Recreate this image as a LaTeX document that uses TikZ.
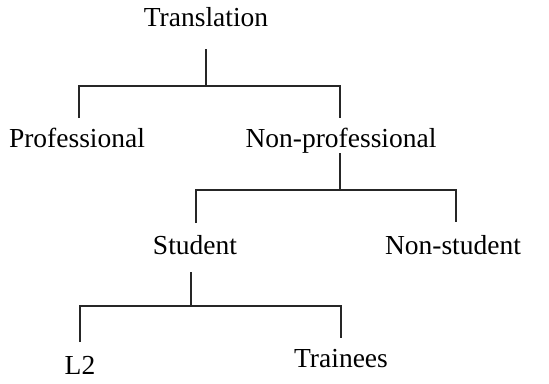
\documentclass[tikz,border=0pt]{standalone}
\usepackage{fontspec}
\setmainfont{Liberation Serif}
\usepackage{tikz}

\tikzset{
  lbl/.style={anchor=base, inner sep=0pt, font=\fontsize{27.5}{32}\selectfont},
  branch/.style={line width=1.3pt, black!85}
}

\begin{document}
\begin{tikzpicture}[x=1pt,y=-1pt]
    \useasboundingbox (0,0) rectangle (549,383);
    % labels
    \node[lbl] (trans)   at (206,26)  {Translation};
    \node[lbl] (prof)    at (77,147)  {Professional};
    \node[lbl] (nonprof) at (341,147) {Non-professional};
    \node[lbl] (stud)    at (195,254) {Student};
    \node[lbl] (nonstud) at (453,254) {Non-student};
    \node[lbl] (ltwo)    at (80,374)  {L2};
    \node[lbl] (train)   at (341,367) {Trainees};
    % junctions
    \coordinate (j1) at (206,86);
    \coordinate (j2) at (340,190);
    \coordinate (j3) at (191,306);
    % branches
    \draw[branch] ([yshift=-23pt]trans.base) -- (j1);
    \draw[branch] ([xshift=2pt,yshift=29pt]prof.base) |- (j1) -| ([xshift=-1pt,yshift=29pt]nonprof.base);
    \draw[branch] ([xshift=-1pt,yshift=-6pt]nonprof.base) -- (j2);
    \draw[branch] ([xshift=1pt,yshift=31pt]stud.base) |- (j2) -| ([xshift=3pt,yshift=32pt]nonstud.base);
    \draw[branch] ([xshift=-4pt,yshift=-18pt]stud.base) -- (j3);
    \draw[branch] ([yshift=32pt]ltwo.base) |- (j3) -| ([yshift=29pt]train.base);
\end{tikzpicture}
\end{document}
